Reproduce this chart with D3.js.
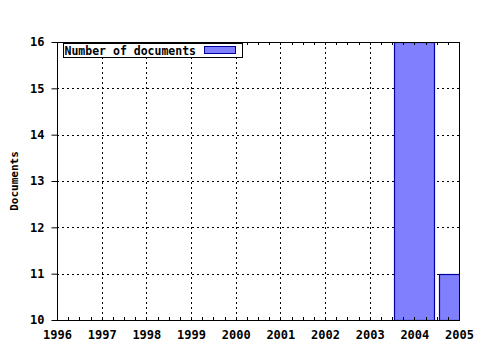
<!DOCTYPE html>
<html>
<head>
<meta charset="utf-8">
<script src="https://cdn.jsdelivr.net/npm/d3@7"></script>
<style>
  body { margin: 0; background: #fff; }
  text { font-family: "DejaVu Sans Mono", monospace; font-weight: bold; }
</style>
</head>
<body>
<div id="chart"></div>
<script>
var years = [2004, 2005];
var docs = [16, 11];
var xTicks = [1996, 1997, 1998, 1999, 2000, 2001, 2002, 2003, 2004, 2005];
var yTicks = [10, 11, 12, 13, 14, 15, 16];
var seriesName = "Number of documents";
var yTitle = "Documents";

var margin = {top: 42, right: 21, bottom: 30, left: 57},
    width = 480 - margin.left - margin.right,
    height = 350 - margin.top - margin.bottom;

var svg = d3.select("#chart").append("svg")
    .attr("width", 480)
    .attr("height", 350);

var g = svg.append("g")
    .attr("transform", "translate(" + margin.left + "," + margin.top + ")");

var x = d3.scaleLinear().domain([1996, 2005]).range([0, width]);
var y = d3.scaleLinear().domain([10, 16]).range([height, 0]);

svg.append("defs").append("clipPath").attr("id", "plot")
  .append("rect").attr("width", width).attr("height", height);

// grid lines
g.append("g").selectAll("line.gx")
    .data(xTicks.slice(1, -1))
    .enter().append("line")
    .attr("x1", function(d) { return Math.round(x(d)) + 0.5; })
    .attr("x2", function(d) { return Math.round(x(d)) + 0.5; })
    .attr("y1", 0).attr("y2", height)
    .style("stroke", "#000").style("stroke-dasharray", "2,3");

g.append("g").selectAll("line.gy")
    .data(yTicks.slice(1, -1))
    .enter().append("line")
    .attr("x1", 0).attr("x2", width)
    .attr("y1", function(d) { return Math.round(y(d)) + 0.5; })
    .attr("y2", function(d) { return Math.round(y(d)) + 0.5; })
    .style("stroke", "#000").style("stroke-dasharray", "2,3");

// bars
var barW = 40;
g.append("g").attr("clip-path", "url(#plot)")
  .selectAll("rect")
  .data(years)
  .enter().append("rect")
    .attr("x", function(d) { return Math.round(x(d) - barW / 2) + 0.5; })
    .attr("y", function(d, i) { return Math.round(y(docs[i])) + 0.5; })
    .attr("width", barW)
    .attr("height", function(d, i) { return Math.round(y(10) - y(docs[i])); })
    .style("fill", "#8080ff")
    .style("stroke", "#0000a0")
    .style("stroke-width", 1.2);

// minor ticks, quarter years, inward on top and bottom
var minor = d3.range(0, 37).map(function(i) { return 1996 + i * 0.25; });
var ticksG = g.append("g");
ticksG.selectAll("line.tb").data(minor).enter().append("line")
    .attr("x1", function(d) { return Math.round(x(d)) + 0.5; })
    .attr("x2", function(d) { return Math.round(x(d)) + 0.5; })
    .attr("y1", height).attr("y2", height - 3)
    .style("stroke", "#000");
ticksG.selectAll("line.tt").data(minor).enter().append("line")
    .attr("x1", function(d) { return Math.round(x(d)) + 0.5; })
    .attr("x2", function(d) { return Math.round(x(d)) + 0.5; })
    .attr("y1", 0).attr("y2", 3)
    .style("stroke", "#000");

// frame
g.append("rect")
    .attr("x", 0.5).attr("y", 0.5)
    .attr("width", width).attr("height", height)
    .style("fill", "none").style("stroke", "#000");

// axes
var xAxis = d3.axisBottom(x).tickValues(xTicks).tickFormat(d3.format("d"))
    .tickSize(0).tickPadding(10);
g.append("g")
    .attr("transform", "translate(0," + height + ")")
    .call(xAxis)
    .call(function(s) { s.select(".domain").remove(); })
    .selectAll("text").style("font-size", "12px").style("font-family", "DejaVu Sans Mono").attr("fill", "#000");

var yAxis = d3.axisLeft(y).tickValues(yTicks).tickFormat(d3.format("d"))
    .tickSize(6).tickPadding(7);
g.append("g")
    .attr("transform", "translate(0.5,0)")
    .call(yAxis)
    .call(function(s) { s.select(".domain").remove(); })
    .selectAll("text").style("font-size", "12px").style("font-family", "DejaVu Sans Mono").attr("fill", "#000");

// y title
svg.append("text")
    .attr("transform", "translate(18," + (margin.top + height / 2) + ") rotate(-90)")
    .attr("text-anchor", "middle")
    .style("font-size", "11px")
    .text(yTitle);

// legend
var leg = svg.append("g").attr("transform", "translate(63.5,43.5)");
leg.append("rect")
    .attr("width", 179).attr("height", 14)
    .style("fill", "#fff").style("stroke", "#000");
leg.append("text")
    .attr("x", 1).attr("y", 11)
    .style("font-size", "11.5px")
    .text(seriesName);
leg.append("rect")
    .attr("x", 141).attr("y", 3)
    .attr("width", 31).attr("height", 7)
    .style("fill", "#8080ff").style("stroke", "#0000a0");
</script>
</body>
</html>
